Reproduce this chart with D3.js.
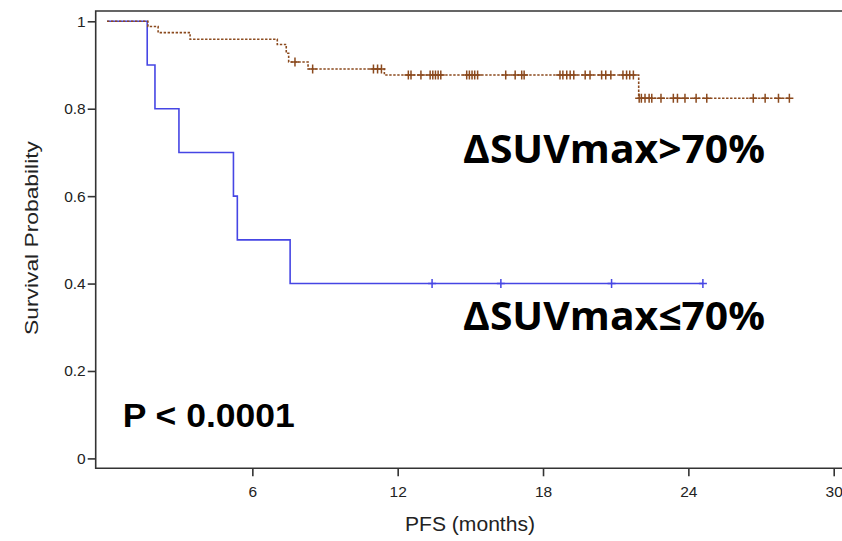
<!DOCTYPE html>
<html>
<head>
<meta charset="utf-8">
<script src="https://cdn.jsdelivr.net/npm/d3@7.9.0/dist/d3.min.js"></script>
<style>
  body { margin: 0; background: #fff; }
  svg { display: block; }
  .tick text { font-family: "Liberation Sans", Arial, sans-serif; font-size: 15.5px; fill: #222; }
</style>
</head>
<body>
<svg id="chart" width="842" height="541"></svg>
<script>
// ΔSUVmax<=70% group (blue, solid)
const lowTimes = [0, 1.66, 1.98, 2.97, 5.22, 5.38, 7.56, 24.6];
const lowSurv  = [1, 0.9, 0.8, 0.7, 0.6, 0.5, 0.4, 0.4];
const lowCensor = [13.42, 16.26, 20.83, 24.6];

// ΔSUVmax>70% group (brown, dotted)
const highTimes = [0, 1.69, 2.11, 3.43, 7.03, 7.40, 7.50, 8.30, 11.45, 21.95, 28.17];
const highSurv  = [1, 0.988, 0.974, 0.959, 0.947, 0.927, 0.907, 0.891, 0.877, 0.824, 0.824];
const highCensor = [7.76, 8.49, 11.0, 11.17, 11.33,
  12.44, 12.55, 12.96, 13.34, 13.45, 13.56, 13.67, 13.78,
  14.85, 14.96, 15.07, 15.18, 15.3, 16.46, 16.85, 17.12, 17.22,
  18.7, 18.82, 18.98, 19.12, 19.27, 19.74, 19.94, 20.42, 20.59, 20.8,
  21.3, 21.45, 21.58, 21.73,
  21.97, 22.06, 22.21, 22.38, 22.49, 22.87, 23.38, 23.55, 23.86, 24.32, 24.76,
  26.68, 27.17, 27.72, 28.17];

const xTicks = [6, 12, 18, 24, 30];
const yTicks = [0, 0.2, 0.4, 0.6, 0.8, 1];

const svg = d3.select('#chart');

const frame = { left: 95.7, top: 11, bottom: 468.3, right: 850 };
const x = d3.scaleLinear().domain([0, 30]).range([107, 833.7]);
const y = d3.scaleLinear().domain([0, 1]).range([458.4, 21.3]);

// frame
svg.append('path')
  .attr('d', `M${frame.right},${frame.top}H${frame.left}V${frame.bottom}H${frame.right}`)
  .attr('fill', 'none')
  .attr('stroke', '#333')
  .attr('stroke-width', 1.6);

let yAxis = svg.append('g')
  .attr('transform', `translate(${frame.left},0)`)
  .call(d3.axisLeft(y).tickValues(yTicks).tickSize(8).tickPadding(2)
    .tickFormat(d => d3.format('~g')(d)));
yAxis.select('.domain').remove();
yAxis.selectAll('.tick line').attr('stroke', '#333').attr('stroke-width', 1.6);

let xAxis = svg.append('g')
  .attr('transform', `translate(0,${frame.bottom})`)
  .call(d3.axisBottom(x).tickValues(xTicks).tickSize(8).tickPadding(10));
xAxis.select('.domain').remove();
xAxis.selectAll('.tick line').attr('stroke', '#333').attr('stroke-width', 1.6);

// axis titles
svg.append('text')
  .attr('transform', 'translate(38,238) rotate(-90)')
  .attr('text-anchor', 'middle')
  .attr('font-family', '"Liberation Sans", Arial, sans-serif')
  .attr('font-size', 18)
  .attr('textLength', 194)
  .attr('lengthAdjust', 'spacingAndGlyphs')
  .attr('fill', '#222')
  .text('Survival Probability');

svg.append('text')
  .attr('x', 470).attr('y', 531)
  .attr('text-anchor', 'middle')
  .attr('font-family', '"Liberation Sans", Arial, sans-serif')
  .attr('font-size', 20)
  .attr('textLength', 130)
  .attr('lengthAdjust', 'spacingAndGlyphs')
  .attr('fill', '#222')
  .text('PFS (months)');

function stepAt(times, surv, t) {
  let s = surv[0];
  for (let i = 0; i < times.length; i++) {
    if (times[i] <= t) s = surv[i];
  }
  return s;
}

const line = d3.line()
  .x(d => x(d[0]))
  .y(d => y(d[1]))
  .curve(d3.curveStepAfter);

function drawGroup(times, surv, censor, color, dash) {
  let pts = times.map((t, i) => [t, surv[i]]);
  svg.append('path')
    .attr('d', line(pts))
    .attr('fill', 'none')
    .attr('stroke', color)
    .attr('stroke-width', 1.6)
    .attr('stroke-dasharray', dash);

  let g = svg.append('g');
  censor.forEach(t => {
    let cx = x(t), cy = y(stepAt(times, surv, t));
    g.append('path')
      .attr('d', `M${cx - 4},${cy}H${cx + 4}M${cx},${cy - 4.5}V${cy + 4.5}`)
      .attr('stroke', color)
      .attr('stroke-width', 1.5);
  });
}

drawGroup(lowTimes, lowSurv, lowCensor, '#4646e4', null);
drawGroup(highTimes, highSurv, highCensor, '#8b4a1e', '2.4,1.6');

// annotations
svg.append('text')
  .attr('x', 463).attr('y', 163)
  .attr('font-family', '"Open Sans", Lato, sans-serif')
  .attr('font-weight', 'bold')
  .attr('font-size', 39)
  .attr('textLength', 302)
  .attr('lengthAdjust', 'spacingAndGlyphs')
  .text('ΔSUVmax>70%');

svg.append('text')
  .attr('x', 463).attr('y', 330)
  .attr('font-family', '"Open Sans", Lato, sans-serif')
  .attr('font-weight', 'bold')
  .attr('font-size', 39)
  .attr('textLength', 302)
  .attr('lengthAdjust', 'spacingAndGlyphs')
  .text('ΔSUVmax≤70%');

svg.append('text')
  .attr('x', 122.7).attr('y', 427.3)
  .attr('font-family', '"Liberation Sans", Arial, sans-serif')
  .attr('font-weight', 'bold')
  .attr('font-size', 34)
  .attr('textLength', 172)
  .attr('lengthAdjust', 'spacingAndGlyphs')
  .text('P < 0.0001');
</script>
</body>
</html>
